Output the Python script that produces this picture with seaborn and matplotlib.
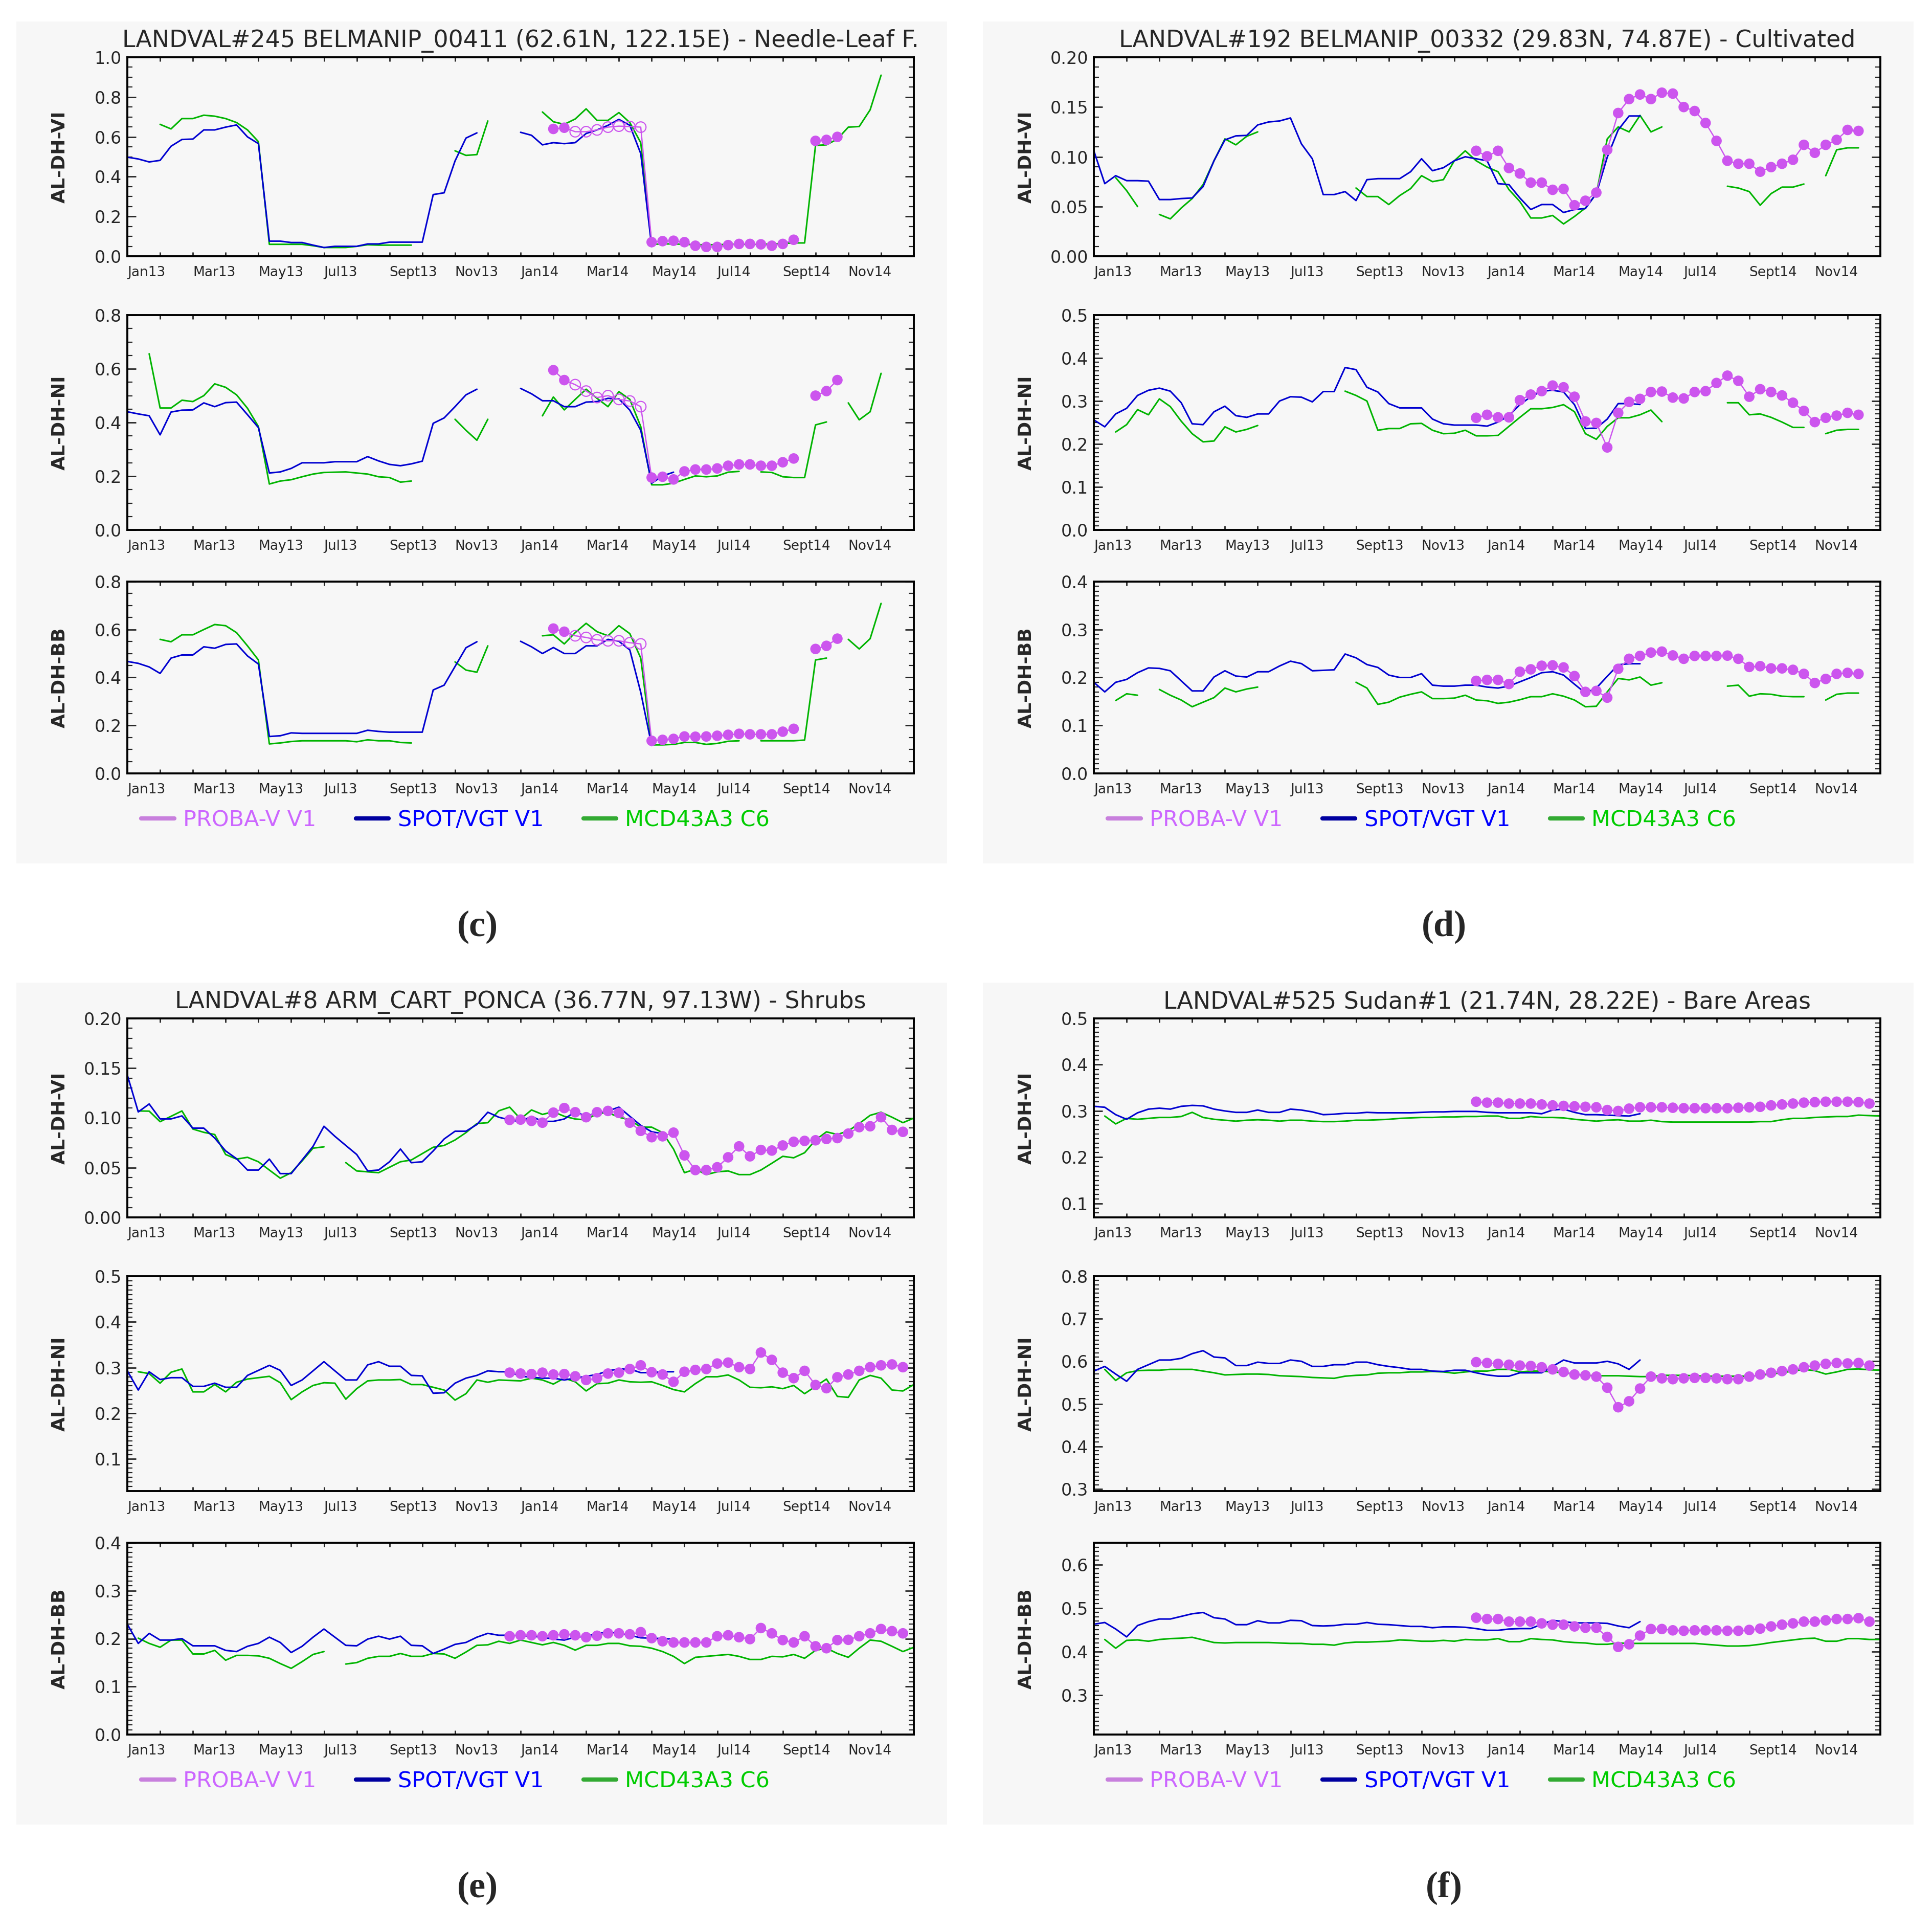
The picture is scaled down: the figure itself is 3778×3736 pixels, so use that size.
import matplotlib.pyplot as plt
import pandas as pd
import seaborn as sns
from matplotlib.lines import Line2D
from matplotlib.patches import Rectangle
from matplotlib.ticker import FormatStrFormatter, MultipleLocator

sns.set_style('ticks')
plt.rcParams['font.family'] = ['DejaVu Sans']

# Dekadal (10-day) albedo series, dekad 0 = 1 Jan 2013. None = no retrieval.
# Each series is (first dekad, values).
MONTH_LABELS = ['Jan13', 'Mar13', 'May13', 'Jul13', 'Sept13', 'Nov13',
                'Jan14', 'Mar14', 'May14', 'Jul14', 'Sept14', 'Nov14']
PRODUCTS = ['PROBA-V V1', 'SPOT/VGT V1', 'MCD43A3 C6']
BANDS = ['VI', 'NI', 'BB']

# (c) LANDVAL#245 Needle-Leaf forest
C_VI_PROBA = (39, [0.640, 0.646, 0.626, 0.626, 0.635, 0.649, 0.654, 0.652, 0.649, 0.071, 0.076, 0.078, 0.071,
                   0.053, 0.047, 0.047, 0.056, 0.062, 0.062, 0.060, 0.053, 0.062, 0.083, None, 0.580, 0.585, 0.600])
C_VI_SPOT = (0, [0.498, 0.489, 0.474, 0.482, 0.553, 0.587, 0.589, 0.635, 0.635, 0.649, 0.660, 0.600, 0.566,
                 0.076, 0.076, 0.069, 0.069, 0.056, 0.044, 0.050, 0.050, 0.050, 0.062, 0.062, 0.071, 0.071,
                 0.071, 0.071, 0.310, 0.319, 0.479, 0.594, 0.620, None, None, None, 0.623, 0.608, 0.560,
                 0.571, 0.566, 0.571, 0.617, 0.635, 0.658, 0.688, 0.658, 0.516, 0.049])
C_VI_MCD = (3, [0.663, 0.640, 0.692, 0.692, 0.709, 0.704, 0.692, 0.672, 0.635, 0.576, 0.060, 0.060, 0.060,
                0.060, 0.053, 0.044, 0.044, 0.044, 0.050, 0.058, 0.056, 0.056, 0.056, 0.056, None, None, None,
                0.530, 0.507, 0.511, 0.680, None, None, None, None, 0.725, 0.676, 0.663, 0.690, 0.741, 0.683,
                0.683, 0.722, 0.672, 0.571, 0.060, 0.062, 0.062, 0.060, 0.058, 0.058, 0.058, 0.060, 0.060,
                0.060, 0.060, 0.062, 0.064, 0.067, 0.067, 0.557, 0.560, 0.589, 0.649, 0.652, 0.736, 0.910])
C_NI_PROBA = (39, [0.595, 0.558, 0.541, 0.517, 0.493, 0.500, 0.486, 0.480, 0.459, 0.195, 0.198, 0.188, 0.218,
                   0.225, 0.225, 0.229, 0.239, 0.244, 0.244, 0.239, 0.239, 0.252, 0.266, None, 0.500, 0.517, 0.558])
C_NI_SPOT = (0, [0.440, 0.432, 0.425, 0.354, 0.439, 0.446, 0.447, 0.473, 0.459, 0.474, 0.476, 0.429, 0.381,
                 0.212, 0.216, 0.229, 0.250, 0.250, 0.250, 0.254, 0.254, 0.254, 0.273, 0.257, 0.244, 0.239,
                 0.246, 0.256, 0.397, 0.417, 0.459, 0.503, 0.524, None, None, None, 0.527, 0.507, 0.481,
                 0.481, 0.459, 0.459, 0.476, 0.478, 0.490, 0.488, 0.446, 0.371, 0.174, 0.201, 0.215])
C_NI_MCD = (2, [0.656, 0.454, 0.454, 0.483, 0.478, 0.500, 0.544, 0.531, 0.503, 0.453, 0.385, 0.171, 0.182,
                0.187, 0.198, 0.208, 0.214, 0.215, 0.216, 0.212, 0.208, 0.198, 0.195, 0.178, 0.182, None, None,
                None, 0.412, 0.371, 0.334, 0.412, None, None, None, None, 0.425, 0.495, 0.447, 0.486, 0.524,
                0.490, 0.459, 0.515, 0.486, 0.385, 0.168, 0.168, 0.174, 0.188, 0.201, 0.198, 0.201, 0.215,
                0.218, None, 0.216, 0.214, 0.198, 0.195, 0.195, 0.391, 0.402, None, 0.473, 0.410, 0.440, 0.583])
C_BB_PROBA = (39, [0.604, 0.591, 0.574, 0.567, 0.557, 0.553, 0.553, 0.545, 0.540, 0.136, 0.140, 0.144, 0.154,
                   0.153, 0.154, 0.157, 0.161, 0.165, 0.163, 0.163, 0.163, 0.174, 0.186, None, 0.519, 0.532, 0.562])
C_BB_SPOT = (0, [0.467, 0.459, 0.444, 0.417, 0.481, 0.494, 0.494, 0.528, 0.522, 0.538, 0.540, 0.490, 0.456,
                 0.154, 0.157, 0.169, 0.167, 0.167, 0.167, 0.167, 0.167, 0.167, 0.180, 0.175, 0.172, 0.172,
                 0.172, 0.172, 0.348, 0.368, 0.446, 0.524, 0.549, None, None, None, 0.551, 0.528, 0.500,
                 0.525, 0.500, 0.500, 0.532, 0.532, 0.559, 0.551, 0.515, 0.338, 0.116])
C_BB_MCD = (3, [0.559, 0.549, 0.578, 0.578, 0.600, 0.621, 0.616, 0.587, 0.532, 0.473, 0.123, 0.127, 0.133,
                0.136, 0.136, 0.136, 0.136, 0.136, 0.132, 0.140, 0.136, 0.136, 0.129, 0.127, None, None, None,
                0.465, 0.431, 0.422, 0.532, None, None, None, None, 0.574, 0.578, 0.540, 0.587, 0.626, 0.591,
                0.574, 0.616, 0.583, 0.481, 0.119, 0.119, 0.121, 0.129, 0.129, 0.121, 0.125, 0.134, 0.136,
                None, 0.136, 0.136, 0.136, 0.136, 0.139, 0.473, 0.481, None, 0.559, 0.519, 0.562, 0.709])
C_HOLLOW = [41, 42, 43, 44, 45, 46, 47]  # PROBA-V dekads drawn as open circles in (c)

# (d) LANDVAL#192 Cultivated
D_VI_PROBA = (35, [0.106, 0.1005, 0.106, 0.0887, 0.0832, 0.074, 0.074, 0.0668, 0.0677, 0.0513, 0.0558, 0.064,
                   0.107, 0.144, 0.158, 0.1626, 0.158, 0.1644, 0.1635, 0.150, 0.146, 0.134, 0.116, 0.096,
                   0.093, 0.093, 0.085, 0.0896, 0.093, 0.097, 0.112, 0.104, 0.112, 0.117, 0.127, 0.126])
D_VI_SPOT = (0, [0.106, 0.073, 0.081, 0.076, 0.076, 0.0755, 0.057, 0.057, 0.058, 0.0586, 0.070, 0.096, 0.117,
                 0.121, 0.1215, 0.132, 0.135, 0.136, 0.139, 0.113, 0.098, 0.062, 0.062, 0.065, 0.056, 0.077,
                 0.078, 0.078, 0.078, 0.085, 0.098, 0.086, 0.089, 0.096, 0.100, 0.098, 0.096, 0.073, 0.072,
                 0.0586, 0.047, 0.052, 0.052, 0.044, 0.047, 0.048, 0.063, 0.0996, 0.127, 0.141, 0.141])
D_VI_MCD = (2, [0.079, 0.066, 0.050, None, 0.042, 0.0376, 0.0485, 0.058, 0.072, 0.096, 0.118, 0.112, 0.1206,
                0.125, None, None, None, None, None, None, None, None, 0.0686, 0.060, 0.060, 0.052, 0.061,
                0.068, 0.081, 0.075, 0.077, 0.096, 0.106, 0.096, 0.0896, 0.085, 0.067, 0.055, 0.0385, 0.0385,
                0.041, 0.0325, 0.040, 0.0485, 0.063, 0.118, 0.130, 0.125, 0.1416, 0.125, 0.130, None, None,
                None, None, None, 0.0704, 0.0686, 0.065, 0.0513, 0.063, 0.0695, 0.0695, 0.0726, None, 0.081,
                0.107, 0.109, 0.109])
D_NI_PROBA = (35, [0.261, 0.268, 0.262, 0.262, 0.302, 0.315, 0.323, 0.336, 0.332, 0.310, 0.2525, 0.249, 0.192,
                   0.2725, 0.298, 0.305, 0.321, 0.322, 0.308, 0.306, 0.321, 0.323, 0.342, 0.359, 0.347, 0.310,
                   0.3275, 0.321, 0.313, 0.296, 0.277, 0.251, 0.261, 0.266, 0.2725, 0.268])
D_NI_SPOT = (0, [0.256, 0.240, 0.270, 0.283, 0.313, 0.325, 0.330, 0.323, 0.296, 0.247, 0.245, 0.275, 0.288,
                 0.266, 0.262, 0.270, 0.270, 0.300, 0.310, 0.309, 0.298, 0.322, 0.322, 0.378, 0.373, 0.332,
                 0.321, 0.294, 0.284, 0.284, 0.284, 0.258, 0.247, 0.244, 0.244, 0.244, 0.2415, 0.251, 0.266,
                 0.2915, 0.310, 0.323, 0.325, 0.321, 0.2915, 0.236, 0.237, 0.258, 0.294, 0.294, 0.292])
D_NI_MCD = (2, [0.228, 0.245, 0.280, 0.268, 0.305, 0.287, 0.253, 0.224, 0.205, 0.207, 0.240, 0.228, 0.234,
                0.243, None, None, None, None, None, None, None, 0.323, 0.313, 0.300, 0.232, 0.236, 0.236,
                0.247, 0.248, 0.232, 0.224, 0.225, 0.232, 0.219, 0.219, 0.220, 0.241, 0.262, 0.282, 0.282,
                0.285, 0.2915, 0.275, 0.224, 0.211, 0.241, 0.261, 0.261, 0.268, 0.279, 0.252, None, None, None,
                None, None, 0.296, 0.296, 0.268, 0.270, 0.262, 0.251, 0.2386, 0.2386, None, 0.224, 0.232,
                0.234, 0.234])
D_BB_PROBA = (35, [0.193, 0.195, 0.195, 0.1865, 0.212, 0.217, 0.2245, 0.2253, 0.221, 0.203, 0.170, 0.172, 0.158,
                   0.218, 0.239, 0.245, 0.252, 0.254, 0.246, 0.239, 0.245, 0.245, 0.245, 0.2456, 0.239, 0.222,
                   0.2236, 0.219, 0.219, 0.216, 0.2076, 0.1886, 0.197, 0.2076, 0.2097, 0.2076])
D_BB_SPOT = (0, [0.190, 0.170, 0.190, 0.196, 0.210, 0.220, 0.219, 0.214, 0.193, 0.172, 0.172, 0.201, 0.214,
                 0.203, 0.201, 0.212, 0.212, 0.224, 0.234, 0.229, 0.214, 0.215, 0.216, 0.249, 0.241, 0.227,
                 0.221, 0.205, 0.200, 0.200, 0.208, 0.184, 0.182, 0.182, 0.184, 0.184, 0.180, 0.178, 0.182,
                 0.191, 0.200, 0.210, 0.212, 0.205, 0.186, 0.1675, 0.178, 0.2025, 0.2266, 0.2287, 0.2287])
D_BB_MCD = (2, [0.152, 0.166, 0.163, None, 0.175, 0.163, 0.153, 0.139, 0.1485, 0.158, 0.178, 0.170, 0.176,
                0.180, None, None, None, None, None, None, None, None, 0.190, 0.178, 0.144, 0.1485, 0.159,
                0.165, 0.170, 0.156, 0.156, 0.157, 0.163, 0.153, 0.1515, 0.146, 0.1485, 0.1536, 0.160, 0.160,
                0.166, 0.161, 0.153, 0.139, 0.140, 0.170, 0.198, 0.195, 0.201, 0.184, 0.189, None, None, None,
                None, None, 0.182, 0.184, 0.161, 0.166, 0.165, 0.161, 0.160, 0.160, None, 0.153, 0.165,
                0.1675, 0.1675])

# (e) LANDVAL#8 Shrubs
E_VI_PROBA = (35, [0.098, 0.0983, 0.097, 0.0952, 0.1053, 0.1099, 0.1057, 0.1007, 0.1057, 0.107, 0.105, 0.0952,
                   0.087, 0.0806, 0.0815, 0.0852, 0.0623, 0.0476, 0.0476, 0.0504, 0.0604, 0.0714, 0.0614,
                   0.0678, 0.0672, 0.0723, 0.076, 0.0769, 0.0775, 0.0788, 0.0797, 0.0842, 0.0907, 0.0916,
                   0.1007, 0.0879, 0.086])
E_VI_SPOT = (0, [0.143, 0.106, 0.114, 0.099, 0.099, 0.102, 0.0897, 0.0897, 0.0797, 0.0668, 0.059, 0.0476,
                 0.0476, 0.0586, 0.044, 0.044, 0.0577, 0.0714, 0.0916, 0.0815, 0.0723, 0.0632, 0.0467, 0.0476,
                 0.0559, 0.0687, 0.055, 0.0559, 0.0668, 0.0788, 0.0866, 0.0866, 0.0934, 0.1057, 0.1007, 0.098,
                 0.0962, 0.1016, 0.0965, 0.0965, 0.0989, 0.1062, 0.1016, 0.1053, 0.107, 0.1108, 0.1016,
                 0.0925, 0.086, 0.0842])
E_VI_MCD = (1, [0.107, 0.1068, 0.0962, 0.1016, 0.107, 0.0888, 0.0855, 0.0833, 0.0632, 0.0586, 0.0604, 0.0559,
                0.0476, 0.0394, 0.0449, 0.0568, 0.0696, 0.0709, None, 0.055, 0.0467, 0.0458, 0.0449, 0.0504,
                0.0559, 0.0577, 0.0641, 0.0705, 0.0723, 0.0778, 0.0852, 0.0943, 0.0952, 0.1071, 0.1108,
                0.0989, 0.108, 0.1035, 0.1062, 0.1016, 0.0989, 0.098, 0.1044, 0.1053, 0.1007, 0.098, 0.0907,
                0.0907, 0.0852, 0.0687, 0.0449, 0.0485, 0.043, 0.0458, 0.0467, 0.043, 0.043, 0.0476, 0.0544,
                0.0614, 0.0599, 0.065, 0.0778, 0.086, 0.0833, 0.087, 0.0943, 0.1026, 0.1057, 0.1007, 0.0952,
                0.0998])
E_NI_PROBA = (35, [0.289, 0.287, 0.286, 0.289, 0.285, 0.286, 0.281, 0.273, 0.277, 0.287, 0.289, 0.297, 0.305,
                   0.290, 0.285, 0.269, 0.291, 0.295, 0.297, 0.309, 0.311, 0.301, 0.297, 0.333, 0.317, 0.289,
                   0.277, 0.293, 0.262, 0.255, 0.279, 0.285, 0.293, 0.301, 0.305, 0.307, 0.301])
E_NI_SPOT = (0, [0.293, 0.251, 0.291, 0.274, 0.278, 0.278, 0.259, 0.259, 0.266, 0.257, 0.257, 0.283, 0.294,
                 0.305, 0.294, 0.261, 0.273, 0.293, 0.313, 0.293, 0.273, 0.273, 0.306, 0.313, 0.303, 0.303,
                 0.283, 0.282, 0.244, 0.245, 0.266, 0.277, 0.283, 0.293, 0.291, 0.291, 0.281, 0.279, 0.277,
                 0.277, 0.273, 0.277, 0.281, 0.285, 0.293, 0.297, 0.297, 0.289, 0.289, 0.291, 0.291])
E_NI_MCD = (1, [0.291, 0.287, 0.266, 0.290, 0.297, 0.247, 0.247, 0.263, 0.247, 0.268, 0.275, 0.278, 0.281,
                0.267, 0.230, 0.247, 0.261, 0.267, 0.266, 0.231, 0.254, 0.271, 0.273, 0.273, 0.274, 0.263,
                0.263, 0.257, 0.251, 0.229, 0.243, 0.273, 0.268, 0.273, 0.272, 0.271, 0.277, 0.273, 0.264,
                0.277, 0.269, 0.249, 0.265, 0.266, 0.273, 0.269, 0.268, 0.269, 0.261, 0.252, 0.247, 0.265,
                0.280, 0.280, 0.284, 0.273, 0.257, 0.256, 0.258, 0.254, 0.261, 0.243, 0.259, 0.275, 0.237,
                0.235, 0.273, 0.283, 0.277, 0.251, 0.249, 0.263])
E_BB_PROBA = (35, [0.205, 0.207, 0.207, 0.205, 0.207, 0.209, 0.207, 0.203, 0.206, 0.211, 0.211, 0.209, 0.2135,
                   0.201, 0.1945, 0.192, 0.192, 0.192, 0.192, 0.205, 0.207, 0.203, 0.199, 0.222, 0.211, 0.197,
                   0.192, 0.205, 0.184, 0.180, 0.197, 0.1975, 0.205, 0.211, 0.220, 0.2156, 0.211])
E_BB_SPOT = (0, [0.230, 0.190, 0.211, 0.197, 0.197, 0.200, 0.185, 0.185, 0.185, 0.1755, 0.173, 0.184, 0.190,
                 0.203, 0.192, 0.171, 0.184, 0.203, 0.220, 0.203, 0.186, 0.185, 0.199, 0.205, 0.199, 0.205,
                 0.186, 0.185, 0.169, 0.178, 0.188, 0.192, 0.203, 0.211, 0.207, 0.207, 0.206, 0.205, 0.203,
                 0.199, 0.197, 0.203, 0.205, 0.211, 0.2135, 0.211, 0.207, 0.2017, 0.201, 0.200, 0.199])
E_BB_MCD = (1, [0.201, 0.190, 0.182, 0.197, 0.197, 0.168, 0.168, 0.1755, 0.155, 0.165, 0.165, 0.164, 0.159,
                0.148, 0.138, 0.152, 0.167, 0.173, None, 0.147, 0.150, 0.159, 0.163, 0.163, 0.169, 0.163,
                0.163, 0.169, 0.168, 0.159, 0.172, 0.186, 0.187, 0.1945, 0.190, 0.197, 0.192, 0.187, 0.192,
                0.186, 0.176, 0.186, 0.186, 0.190, 0.190, 0.185, 0.184, 0.180, 0.173, 0.163, 0.148, 0.161,
                0.163, 0.165, 0.167, 0.163, 0.1565, 0.1565, 0.163, 0.162, 0.167, 0.159, 0.1755, 0.180, 0.169,
                0.161, 0.180, 0.197, 0.1945, 0.184, 0.173, 0.182])

# (f) LANDVAL#525 Bare Areas
F_VI_PROBA = (35, [0.320, 0.318, 0.318, 0.316, 0.316, 0.316, 0.314, 0.312, 0.311, 0.310, 0.309, 0.308, 0.302,
                   0.300, 0.305, 0.308, 0.308, 0.308, 0.307, 0.306, 0.306, 0.306, 0.306, 0.306, 0.307, 0.308,
                   0.309, 0.312, 0.314, 0.316, 0.318, 0.319, 0.320, 0.320, 0.320, 0.319, 0.316])
F_VI_SPOT = (0, [0.310, 0.308, 0.292, 0.282, 0.296, 0.304, 0.306, 0.304, 0.310, 0.312, 0.311, 0.304, 0.300,
                 0.297, 0.297, 0.302, 0.297, 0.297, 0.304, 0.302, 0.298, 0.292, 0.293, 0.295, 0.295, 0.297,
                 0.296, 0.296, 0.296, 0.296, 0.297, 0.298, 0.298, 0.299, 0.299, 0.299, 0.297, 0.296, 0.296,
                 0.296, 0.296, 0.294, 0.302, 0.304, 0.297, 0.292, 0.292, 0.291, 0.290, 0.289, 0.294])
F_VI_MCD = (1, [0.289, 0.272, 0.284, 0.282, 0.284, 0.286, 0.286, 0.288, 0.297, 0.286, 0.282, 0.280, 0.278,
                0.280, 0.281, 0.280, 0.278, 0.280, 0.280, 0.278, 0.277, 0.277, 0.278, 0.280, 0.280, 0.281,
                0.282, 0.284, 0.285, 0.286, 0.286, 0.287, 0.287, 0.288, 0.288, 0.289, 0.289, 0.284, 0.284,
                0.288, 0.286, 0.286, 0.285, 0.282, 0.280, 0.278, 0.280, 0.281, 0.278, 0.278, 0.280, 0.277,
                0.276, 0.276, 0.276, 0.276, 0.276, 0.276, 0.276, 0.276, 0.277, 0.277, 0.281, 0.284, 0.284,
                0.286, 0.287, 0.288, 0.288, 0.291, 0.290, 0.289])
F_NI_PROBA = (35, [0.598, 0.596, 0.594, 0.592, 0.590, 0.589, 0.586, 0.581, 0.575, 0.569, 0.567, 0.564, 0.538,
                   0.492, 0.506, 0.536, 0.564, 0.560, 0.558, 0.560, 0.561, 0.561, 0.560, 0.558, 0.558, 0.564,
                   0.569, 0.573, 0.577, 0.581, 0.586, 0.590, 0.594, 0.596, 0.595, 0.596, 0.590])
F_NI_SPOT = (0, [0.577, 0.588, 0.570, 0.553, 0.581, 0.592, 0.603, 0.603, 0.607, 0.618, 0.625, 0.610, 0.608,
                 0.590, 0.590, 0.598, 0.595, 0.595, 0.603, 0.600, 0.588, 0.588, 0.592, 0.592, 0.598, 0.598,
                 0.592, 0.588, 0.585, 0.581, 0.581, 0.577, 0.576, 0.579, 0.579, 0.573, 0.568, 0.565, 0.565,
                 0.573, 0.573, 0.573, 0.588, 0.603, 0.596, 0.596, 0.596, 0.600, 0.594, 0.581, 0.603])
F_NI_MCD = (1, [0.581, 0.555, 0.573, 0.578, 0.579, 0.579, 0.581, 0.581, 0.581, 0.577, 0.573, 0.568, 0.569,
                0.570, 0.570, 0.569, 0.566, 0.565, 0.564, 0.562, 0.561, 0.560, 0.565, 0.567, 0.568, 0.572,
                0.573, 0.573, 0.575, 0.575, 0.576, 0.575, 0.572, 0.575, 0.577, 0.577, 0.581, 0.581, 0.575,
                0.577, 0.577, 0.575, 0.573, 0.570, 0.567, 0.566, 0.566, 0.566, 0.565, 0.564, 0.564, 0.567,
                0.567, 0.567, 0.566, 0.565, 0.565, 0.565, 0.565, 0.565, 0.567, 0.570, 0.573, 0.577, 0.581,
                0.578, 0.570, 0.575, 0.581, 0.582, 0.580, 0.579])
F_BB_PROBA = (35, [0.478, 0.475, 0.475, 0.469, 0.469, 0.469, 0.465, 0.462, 0.462, 0.458, 0.455, 0.455, 0.434,
                   0.411, 0.417, 0.437, 0.452, 0.452, 0.449, 0.448, 0.449, 0.449, 0.449, 0.448, 0.448, 0.450,
                   0.453, 0.458, 0.462, 0.465, 0.469, 0.469, 0.472, 0.475, 0.475, 0.477, 0.469])
F_BB_SPOT = (0, [0.463, 0.467, 0.452, 0.434, 0.460, 0.469, 0.475, 0.475, 0.481, 0.487, 0.490, 0.478, 0.475,
                 0.462, 0.462, 0.471, 0.466, 0.466, 0.472, 0.471, 0.460, 0.459, 0.460, 0.463, 0.463, 0.467,
                 0.463, 0.462, 0.460, 0.458, 0.458, 0.455, 0.457, 0.457, 0.456, 0.453, 0.449, 0.449, 0.452,
                 0.453, 0.453, 0.463, 0.472, 0.469, 0.466, 0.466, 0.466, 0.465, 0.459, 0.455, 0.469])
F_BB_MCD = (1, [0.428, 0.408, 0.426, 0.427, 0.424, 0.428, 0.430, 0.431, 0.433, 0.427, 0.421, 0.420, 0.421,
                0.421, 0.421, 0.421, 0.420, 0.419, 0.419, 0.417, 0.417, 0.415, 0.420, 0.422, 0.422, 0.423,
                0.424, 0.427, 0.426, 0.424, 0.424, 0.426, 0.424, 0.428, 0.427, 0.427, 0.430, 0.423, 0.423,
                0.430, 0.428, 0.427, 0.423, 0.421, 0.420, 0.417, 0.417, 0.420, 0.419, 0.419, 0.419, 0.419,
                0.419, 0.419, 0.419, 0.417, 0.415, 0.413, 0.413, 0.414, 0.417, 0.421, 0.424, 0.427, 0.430,
                0.431, 0.424, 0.424, 0.430, 0.430, 0.428, 0.428])

SERIES = {
    ('c', 'VI'): (C_VI_PROBA, C_VI_SPOT, C_VI_MCD),
    ('c', 'NI'): (C_NI_PROBA, C_NI_SPOT, C_NI_MCD),
    ('c', 'BB'): (C_BB_PROBA, C_BB_SPOT, C_BB_MCD),
    ('d', 'VI'): (D_VI_PROBA, D_VI_SPOT, D_VI_MCD),
    ('d', 'NI'): (D_NI_PROBA, D_NI_SPOT, D_NI_MCD),
    ('d', 'BB'): (D_BB_PROBA, D_BB_SPOT, D_BB_MCD),
    ('e', 'VI'): (E_VI_PROBA, E_VI_SPOT, E_VI_MCD),
    ('e', 'NI'): (E_NI_PROBA, E_NI_SPOT, E_NI_MCD),
    ('e', 'BB'): (E_BB_PROBA, E_BB_SPOT, E_BB_MCD),
    ('f', 'VI'): (F_VI_PROBA, F_VI_SPOT, F_VI_MCD),
    ('f', 'NI'): (F_NI_PROBA, F_NI_SPOT, F_NI_MCD),
    ('f', 'BB'): (F_BB_PROBA, F_BB_SPOT, F_BB_MCD),
}

TITLES = {
    'c': 'LANDVAL#245 BELMANIP_00411 (62.61N, 122.15E) - Needle-Leaf F.',
    'd': 'LANDVAL#192 BELMANIP_00332 (29.83N, 74.87E) - Cultivated',
    'e': 'LANDVAL#8 ARM_CART_PONCA (36.77N, 97.13W) - Shrubs',
    'f': 'LANDVAL#525 Sudan#1 (21.74N, 28.22E) - Bare Areas',
}

# y axis: (low, high, major step, minor step, label format)
Y_AXES = {
    ('c', 'VI'): (0.0, 1.0, 0.2, 0.05, '%.1f'),
    ('c', 'NI'): (0.0, 0.8, 0.2, 0.05, '%.1f'),
    ('c', 'BB'): (0.0, 0.8, 0.2, 0.05, '%.1f'),
    ('d', 'VI'): (0.0, 0.2, 0.05, 0.01, '%.2f'),
    ('d', 'NI'): (0.0, 0.5, 0.1, 0.01, '%.1f'),
    ('d', 'BB'): (0.0, 0.4, 0.1, 0.01, '%.1f'),
    ('e', 'VI'): (0.0, 0.2, 0.05, 0.01, '%.2f'),
    ('e', 'NI'): (0.03, 0.5, 0.1, 0.01, '%.1f'),
    ('e', 'BB'): (0.0, 0.4, 0.1, 0.01, '%.1f'),
    ('f', 'VI'): (0.07, 0.5, 0.1, 0.01, '%.1f'),
    ('f', 'NI'): (0.295, 0.8, 0.1, 0.01, '%.1f'),
    ('f', 'BB'): (0.21, 0.65, 0.1, 0.01, '%.1f'),
}

PURPLE = '#CC55EE'
BLUE = '#0000D0'
GREEN = '#00B400'
LEGEND_LINE_COLORS = ['#C880DD', '#0000A0', '#33AA33']
LEGEND_TEXT_COLORS = ['#CC66FF', '#0000FF', '#00CC00']
BG = '#F7F7F7'

# long table: one row per retrieval, seg splits lines at data gaps
rows = []
seg = 0
for (panel, band), triple in SERIES.items():
    for product, (start, values) in zip(PRODUCTS, triple):
        seg += 1
        for i, v in enumerate(values):
            if v is None:
                seg += 1
                continue
            k = start + i
            rows.append(dict(panel=panel, band=band, product=product, t=k / 3.0, value=v, seg=seg,
                             hollow=(panel == 'c' and product == PRODUCTS[0] and k in C_HOLLOW)))
df = pd.DataFrame(rows)

# ---- layout in output pixels
W, H, DPI = 3778, 3736, 200
fig = plt.figure(figsize=(W / DPI, H / DPI), dpi=DPI)
fig.patch.set_facecolor('white')


def fig_rect(x0, y0, x1, y1):
    return [x0 / W, 1 - y1 / H, (x1 - x0) / W, (y1 - y0) / H]


OFFSETS = {'c': (0, 0), 'd': (1890, 0), 'e': (0, 1879), 'f': (1890, 1879)}
AX_X = (249, 1787)
AX_ROWS = {'VI': (112, 501), 'NI': (616, 1036), 'BB': (1137, 1512)}
BOX = (32, 42, 1852, 1688)

for panel, (dx, dy) in OFFSETS.items():
    bx = fig_rect(BOX[0] + dx, BOX[1] + dy, BOX[2] + dx, BOX[3] + dy)
    fig.add_artist(Rectangle((bx[0], bx[1]), bx[2], bx[3], transform=fig.transFigure,
                             facecolor=BG, edgecolor='none', zorder=0))
    fig.text((AX_X[0] + AX_X[1]) / 2 / W + dx / W, 1 - (80 + dy) / H, TITLES[panel],
             ha='center', va='center', fontsize=16.5)
    fig.text((934 + dx) / W, 1 - (1812 + dy) / H, f'({panel})', ha='center', va='center',
             fontsize=26, fontweight='bold', family=['Liberation Serif', 'DejaVu Serif'])

    for band in BANDS:
        y0, y1 = AX_ROWS[band]
        ax = fig.add_axes(fig_rect(AX_X[0] + dx, y0 + dy, AX_X[1] + dx, y1 + dy))
        ax.set_facecolor(BG)
        sub = df[(df.panel == panel) & (df.band == band)]
        others = sub[sub['product'] != PRODUCTS[0]]
        proba = sub[sub['product'] == PRODUCTS[0]]

        sns.lineplot(data=others, x='t', y='value', hue='product', hue_order=[PRODUCTS[2], PRODUCTS[1]],
                     palette={PRODUCTS[1]: BLUE, PRODUCTS[2]: GREEN}, units='seg', estimator=None,
                     sort=False, legend=False, linewidth=1.1, ax=ax)
        sns.lineplot(data=proba, x='t', y='value', units='seg', estimator=None, sort=False,
                     color=PURPLE, linewidth=0.9, legend=False, ax=ax)
        sns.scatterplot(data=proba[~proba.hollow], x='t', y='value', color=PURPLE, s=55,
                        edgecolor='none', legend=False, ax=ax, zorder=4)
        if proba.hollow.any():
            sns.scatterplot(data=proba[proba.hollow], x='t', y='value', s=55, facecolors='none',
                            edgecolor=PURPLE, linewidth=0.8, legend=False, ax=ax, zorder=4)

        lo, hi, major, minor, fmt = Y_AXES[(panel, band)]
        ax.set_xlim(0, 24)
        ax.set_ylim(lo, hi)
        ax.set_xticks(range(25))
        ax.set_xticklabels([MONTH_LABELS[m // 2] if m % 2 == 0 and m < 24 else '' for m in range(25)])
        for lab in ax.get_xticklabels():
            lab.set_horizontalalignment('left')
        ax.yaxis.set_major_locator(MultipleLocator(major))
        ax.yaxis.set_minor_locator(MultipleLocator(minor))
        ax.yaxis.set_major_formatter(FormatStrFormatter(fmt))
        ax.tick_params(axis='x', which='major', direction='in', top=True, bottom=True,
                       length=3, width=1, labelsize=9.5, pad=7)
        ax.tick_params(axis='y', which='major', direction='in', left=True, right=True,
                       length=6, width=1, labelsize=12, pad=4)
        ax.tick_params(axis='y', which='minor', direction='in', left=True, right=True,
                       length=3.5, width=0.8)
        for sp in ax.spines.values():
            sp.set_linewidth(1.4)
            sp.set_color('black')
        ax.set_xlabel('')
        ax.set_ylabel(f'AL-DH-{band}', fontsize=13, fontweight='bold')
        ax.yaxis.set_label_coords(-0.075, 0.5)

        if band == 'BB':
            handles = [Line2D([], [], color=c, lw=3) for c in LEGEND_LINE_COLORS]
            ax.legend(handles, PRODUCTS, loc='center left', bbox_to_anchor=(0.0176, -0.243), ncol=3,
                      frameon=False, fontsize=15.5, handlelength=1.5, handletextpad=0.4,
                      columnspacing=1.8, borderpad=0, borderaxespad=0, labelcolor=LEGEND_TEXT_COLORS)

fig.savefig('out.png', dpi=DPI, facecolor='white')
